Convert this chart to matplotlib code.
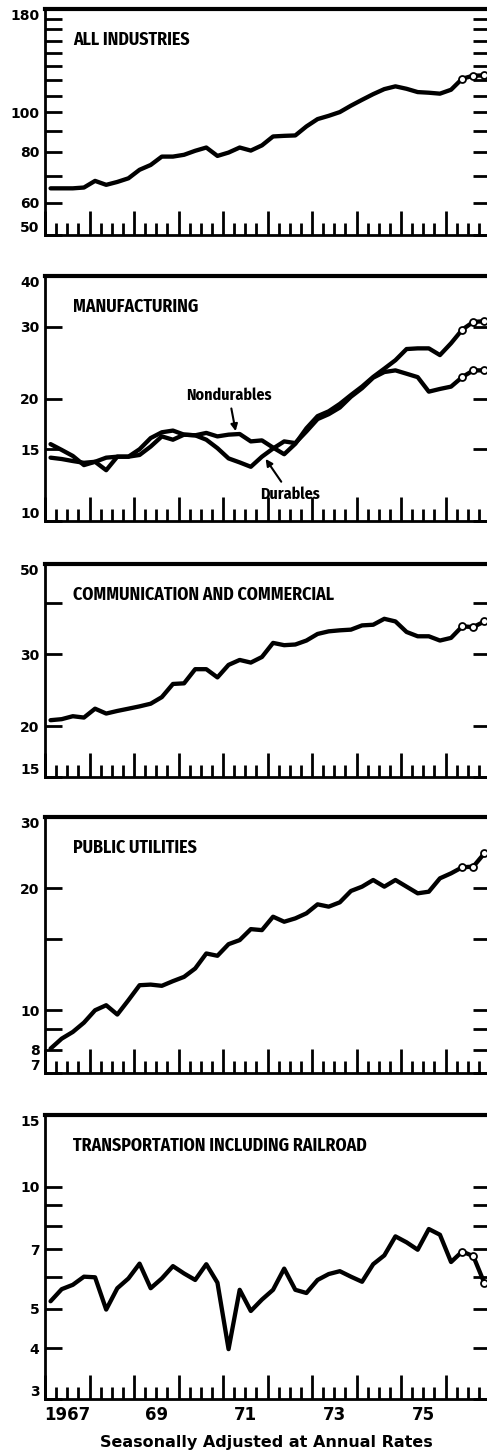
import numpy as np
import matplotlib
matplotlib.use('Agg')
import matplotlib.pyplot as plt

# quarterly observations, 1967 Q1 .. 1976 Q4 (plotted mid-quarter)
quarters = np.arange(1967.125, 1977, 0.25)

all_industries = [65.1, 65.1, 65.1, 65.4, 67.9, 66.4, 67.5, 68.9, 72.3, 74.3,
                  77.9, 77.9, 78.7, 80.5, 82.0, 78.2, 79.7, 82.0, 80.6, 83.0,
                  87.3, 87.6, 87.8, 92.4, 96.3, 98.1, 100.2, 103.9, 107.4, 110.9,
                  114.1, 115.9, 114.3, 112.2, 111.8, 111.2, 113.7, 121.0, 123.1, 123.3]

durables = [15.45, 14.95, 14.45, 13.72, 13.98, 13.33, 14.39, 14.39, 15.01, 15.99,
            16.52, 16.68, 16.30, 16.24, 15.84, 15.10, 14.25, 13.93, 13.59, 14.39,
            15.07, 15.69, 15.54, 16.6, 17.8, 18.3, 19.0, 20.2, 21.2, 22.5,
            23.23, 23.45, 23.01, 22.57, 20.79, 21.11, 21.39, 22.57, 23.45, 23.45]

nondurables = [14.31, 14.2, 14.04, 13.90, 13.98, 14.31, 14.39, 14.39, 14.53, 15.24,
               16.14, 15.84, 16.30, 16.24, 16.46, 16.14, 16.30, 16.36, 15.69, 15.78,
               15.15, 14.59, 15.48, 16.9, 18.1, 18.6, 19.4, 20.4, 21.4, 22.6,
               23.68, 24.84, 26.46, 26.56, 26.56, 25.57, 27.34, 29.52, 30.85, 30.97]

communication = [20.68, 20.80, 21.15, 20.99, 22.07, 21.47, 21.79, 22.07, 22.36, 22.70,
                 23.56, 25.38, 25.47, 27.59, 27.59, 26.34, 28.27, 29.07, 28.64, 29.56,
                 32.01, 31.60, 31.72, 32.44, 33.67, 34.17, 34.37, 34.50, 35.34, 35.47,
                 36.68, 36.14, 34.05, 33.23, 33.23, 32.44, 32.93, 35.14, 35.01, 36.14]

utilities = [8.04, 8.51, 8.84, 9.32, 10.0, 10.29, 9.76, 10.59, 11.53, 11.57,
             11.49, 11.80, 12.09, 12.68, 13.81, 13.63, 14.56, 14.90, 15.86, 15.77,
             17.02, 16.54, 16.86, 17.35, 18.26, 18.02, 18.47, 19.70, 20.19, 20.97,
             20.19, 20.97, 20.19, 19.44, 19.62, 21.17, 21.78, 22.54, 22.63, 24.41]

transportation = [5.22, 5.59, 5.73, 6.0, 5.98, 4.98, 5.62, 5.94, 6.46, 5.62,
                  5.94, 6.37, 6.11, 5.89, 6.44, 5.80, 3.98, 5.57, 4.94, 5.27,
                  5.57, 6.28, 5.57, 5.47, 5.89, 6.09, 6.19, 6.0, 5.83, 6.44,
                  6.77, 7.54, 7.29, 6.99, 7.86, 7.61, 6.52, 6.92, 6.74, 5.78]

titles = ['ALL INDUSTRIES', 'MANUFACTURING', 'COMMUNICATION AND COMMERCIAL',
          'PUBLIC UTILITIES', 'TRANSPORTATION INCLUDING RAILROAD']
series = [[all_industries], [durables, nondurables], [communication],
          [utilities], [transportation]]
ylims = [(50, 180), (10, 40), (15, 50), (7, 30), (3, 15)]
yticks = [[50, 60, 70, 80, 90, 100, 110, 120, 130, 140, 150, 160, 170, 180],
          [10, 15, 20, 30, 40],
          [15, 20, 30, 40, 50],
          [7, 8, 9, 10, 15, 20, 30],
          [3, 4, 5, 6, 7, 8, 9, 10, 15]]
ylabeled = [[50, 60, 80, 100, 180], [10, 15, 20, 30, 40], [15, 20, 30, 50],
            [7, 8, 10, 20, 30], [3, 4, 5, 7, 10, 15]]
year_labels = ['1967', '69', '71', '73', '75']
label_years = [1967, 1969, 1971, 1973, 1975]

narrow = ['Fira Sans Condensed', 'Asap Condensed', 'DejaVu Sans']

W, H = 487, 1451
fig = plt.figure(figsize=(W / 100, H / 100), dpi=100)

# panel extents in pixels (top, bottom); axes run a little past the right edge
panels_px = [(8.5, 235), (276, 521), (564, 777), (817, 1073), (1115, 1399)]

axes = []
title_txt = []
for k, (top, bot) in enumerate(panels_px):
    ax = fig.add_axes([45 / W, 1 - bot / H, 445 / W, (bot - top) / H])
    axes.append(ax)
    for vals in series[k]:
        ax.plot(quarters, vals, color='black', lw=3.1, solid_capstyle='round')
        ax.plot(quarters[-3:], vals[-3:], 'o', color='black', mfc='white',
                mec='black', ms=5, mew=1.3, zorder=3)

    ax.set_yscale('log')
    ax.set_ylim(*ylims[k])
    ax.set_xlim(1967, 1977)
    labs = [str(t) if t in ylabeled[k] else '' for t in yticks[k]]
    ax.set_yticks(yticks[k], labs, fontsize=10, fontweight='bold')
    ax.yaxis.set_minor_locator(matplotlib.ticker.NullLocator())
    tl = ax.get_yticklabels()
    tl[0].set_va('bottom')
    tl[-1].set_va('top')
    ax.tick_params(axis='y', which='major', direction='in', length=12, width=2,
                   left=True, right=True, pad=4)

    ax.set_xticks(np.arange(1967, 1978), [''] * 11)
    ax.set_xticks(np.arange(1967, 1977.01, 0.25), minor=True)
    ax.tick_params(axis='x', which='major', direction='in', length=17, width=2)
    ax.tick_params(axis='x', which='minor', direction='in', length=9, width=2)

    for s in ['left', 'bottom', 'right']:
        ax.spines[s].set_linewidth(2)
    ax.spines['top'].set_linewidth(3)

    t = ax.annotate(titles[k], xy=(0, 1), xycoords='axes fraction', xytext=(28, -31),
                    textcoords='offset pixels', ha='left', va='center',
                    fontsize=13, fontweight='bold', family=narrow)
    title_txt.append(t)

# manufacturing labels with arrows
axm = axes[1]
arrow = dict(arrowstyle='-|>', color='black', lw=1.5, mutation_scale=10,
             shrinkA=2, shrinkB=1)
nd = axm.annotate('Nondurables', xy=(1971.29, 16.5), xytext=(1971.13, 20.4),
                  ha='center', va='center', fontsize=12.5, fontweight='bold',
                  family=narrow, arrowprops=arrow)
du = axm.annotate('Durables', xy=(1971.94, 14.3), xytext=(1972.51, 11.6),
                  ha='center', va='center', fontsize=12.5, fontweight='bold',
                  family=narrow, arrowprops=arrow)

# fit the narrow lettering to the widths seen in the original
r = fig.canvas.get_renderer()
scale = 261 / title_txt[2].get_window_extent(r).width
for t in title_txt:
    t.set_fontsize(t.get_fontsize() * scale)
lscale = 85 / nd.get_window_extent(r).width
for t in (nd, du):
    t.set_fontsize(t.get_fontsize() * lscale)

# year labels under the bottom panel
axb = axes[-1]
for yr, lab in zip(label_years, year_labels):
    axb.annotate(lab, xy=(yr + 0.5, 0), xycoords=('data', 'axes fraction'),
                 xytext=(0, -16), textcoords='offset pixels', ha='center',
                 va='center', fontsize=12, fontweight='bold')

fig.text(266.5 / W, 1 - 1442 / H, 'Seasonally Adjusted at Annual Rates',
         ha='center', va='center', fontsize=11.5, fontweight='bold')

fig.savefig('out.png', dpi=100)
